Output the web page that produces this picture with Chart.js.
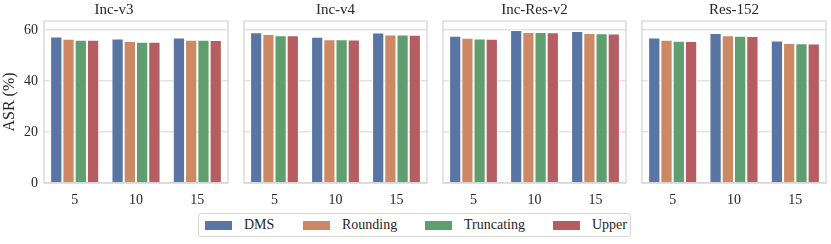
<!DOCTYPE html>
<html>
<head>
<meta charset="utf-8">
<script src="https://cdn.jsdelivr.net/npm/chart.js@4/dist/chart.umd.min.js"></script>
<style>
  body { margin: 0; background: #fff; width: 831px; height: 244px; overflow: hidden; position: relative; font-family: 'Liberation Serif', serif; color: #262626; }
  .panel { position: absolute; top: 0; height: 206px; }
  .legend { position: absolute; left: 198px; top: 213px; width: 433px; height: 24px; border: 1px solid #d6d6d6; border-radius: 3px; box-sizing: border-box; }
  .item { position: absolute; top: 0; height: 22px; line-height: 22px; font-size: 14px; }
  .sw { position: absolute; top: 7px; width: 27px; height: 9px; }
  .lab { position: absolute; white-space: nowrap; }
</style>
</head>
<body>
<div class="panel" id="p0"><canvas id="c0"></canvas></div>
<div class="panel" id="p1"><canvas id="c1"></canvas></div>
<div class="panel" id="p2"><canvas id="c2"></canvas></div>
<div class="panel" id="p3"><canvas id="c3"></canvas></div>
<div class="legend" id="legend"></div>
<script>
// data
const models = ['Inc-v3', 'Inc-v4', 'Inc-Res-v2', 'Res-152'];
const steps = ['5', '10', '15'];
const methods = ['DMS', 'Rounding', 'Truncating', 'Upper'];
const yTicks = [0, 20, 40, 60];

// [model][method][step]
const incV3 = [
    [57.5, 56.7, 57.1],
    [56.6, 55.7, 56.2],
    [56.2, 55.5, 56.2],
    [56.2, 55.5, 56.1]
];
const incV4 = [
    [59.2, 57.4, 59.1],
    [58.5, 56.4, 58.3],
    [58.0, 56.4, 58.3],
    [58.0, 56.3, 58.2]
];
const incResV2 = [
    [57.8, 60.1, 59.7],
    [57.0, 59.3, 58.9],
    [56.7, 59.3, 58.8],
    [56.6, 59.2, 58.7]
];
const res152 = [
    [57.1, 58.9, 55.9],
    [56.2, 58.0, 55.0],
    [55.8, 57.8, 54.9],
    [55.7, 57.7, 54.8]
];
const allData = [incV3, incV4, incResV2, res152];

// styling
const colors = ['#5975a4', '#cc8963', '#5f9e6e', '#b55d60'];
const textColor = '#262626';
const gridColor = '#e3e3e3';
const edgeColor = '#d3d3d3';
const fontFam = "'Liberation Serif', 'Times New Roman', serif";
const yMax = 63.6;

// plot area left/right in page pixels
const areas = [[44, 228], [244, 427], [443, 626], [642, 826]];

const frame = {
    id: 'frame',
    afterDraw(chart) {
        const a = chart.chartArea;
        const ctx = chart.ctx;
        ctx.save();
        ctx.strokeStyle = edgeColor;
        ctx.lineWidth = 1.2;
        ctx.strokeRect(a.left, a.top, a.right - a.left, a.bottom - a.top);
        ctx.restore();
    }
};

models.forEach((name, i) => {
    const first = i === 0;
    const [l, r] = areas[i];
    const left = first ? 0 : l - 2;
    const width = r - left + 3;
    const box = document.getElementById('p' + i);
    box.style.left = left + 'px';
    box.style.width = width + 'px';

    new Chart(document.getElementById('c' + i), {
        type: 'bar',
        data: {
            labels: steps,
            datasets: methods.map((m, k) => ({
                label: m,
                data: allData[i][k],
                backgroundColor: colors[k],
                borderColor: '#ffffff',
                borderWidth: 1,
                borderSkipped: 'start',
                categoryPercentage: 0.8,
                barPercentage: 1.0
            }))
        },
        options: {
            responsive: true,
            maintainAspectRatio: false,
            animation: false,
            layout: { padding: { left: first ? 0 : 2, right: 3, top: 0, bottom: 0 } },
            plugins: {
                legend: { display: false },
                tooltip: { enabled: false },
                title: {
                    display: true,
                    text: name,
                    color: textColor,
                    font: { family: fontFam, size: 15, weight: 'normal' },
                    padding: { top: 1, bottom: 2 }
                }
            },
            scales: {
                x: {
                    grid: { display: false },
                    border: { display: false },
                    ticks: { color: textColor, font: { family: fontFam, size: 14 }, padding: 1 },
                    afterFit: (s) => { s.height = 23; }
                },
                y: {
                    min: 0,
                    max: yMax,
                    afterBuildTicks: (s) => { s.ticks = yTicks.map(v => ({ value: v })); },
                    grid: { color: gridColor, lineWidth: 1.5, drawTicks: false },
                    border: { display: false },
                    ticks: {
                        display: first,
                        color: textColor,
                        font: { family: fontFam, size: 14 },
                        padding: 6
                    },
                    title: {
                        display: first,
                        text: 'ASR (%)',
                        color: textColor,
                        font: { family: fontFam, size: 16 },
                        padding: { top: 0, bottom: 1 }
                    },
                    afterFit: (s) => { s.width = first ? 44 : 0; }
                }
            }
        },
        plugins: [frame]
    });
});

// legend
const legendX = [6, 104, 226, 354];
const legend = document.getElementById('legend');
methods.forEach((m, k) => {
    const it = document.createElement('div');
    it.className = 'item';
    it.style.left = legendX[k] + 'px';
    it.innerHTML = '<span class="sw" style="left:0;background:' + colors[k] + '"></span>' +
        '<span class="lab" style="left:39px">' + m + '</span>';
    legend.appendChild(it);
});
</script>
</body>
</html>
